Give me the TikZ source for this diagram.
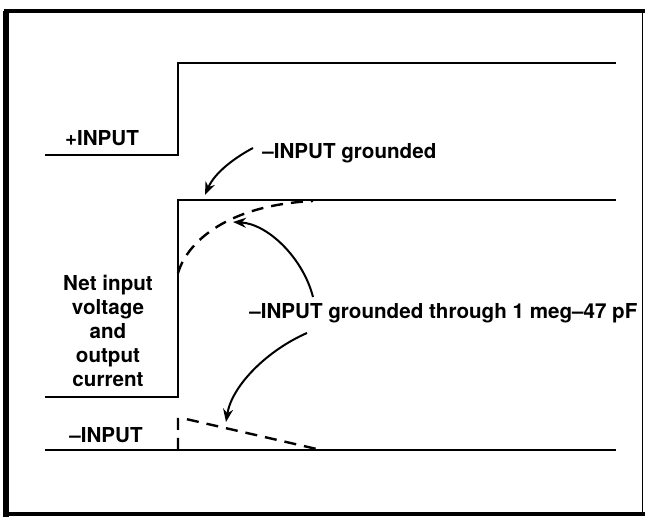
\documentclass[tikz,border=0pt]{standalone}
\usepackage{fontspec}
\setmainfont{TeX Gyre Heros}
\usetikzlibrary{arrows.meta}
\tikzset{
  wave/.style={line width=1pt, line join=miter},
  dashcurve/.style={line width=1.2pt, dash pattern=on 6pt off 4pt},
  pointer/.style={line width=1pt, -{Stealth[length=6.5pt,width=5pt]}},
  lbl/.style={font=\fontsize{10.3}{12}\selectfont\bfseries, inner sep=0pt},
}
\begin{document}
\begin{tikzpicture}[x=0.5pt,y=-0.5pt]
\useasboundingbox (0,0) rectangle (645,517);
% frame
\draw[line width=2.6pt] (6,517) -- (6,11);
\draw[line width=1.6pt] (4,11) -- (645,11);
\draw[line width=2pt] (4,514) -- (645,514);
\draw[line width=0.5pt] (643,11) -- (643,514);

% +INPUT waveform
\coordinate (a0) at (45,155);
\coordinate (a1) at (178,155);
\coordinate (a2) at (178,63);
\coordinate (a3) at (616,63);
\draw[wave] (a0) -- (a1) -- (a2) -- (a3);
\node[lbl] (plus) at (102,138) {+INPUT};

% net input waveform
\coordinate (b0) at (45,397);
\coordinate (b1) at (178,397);
\coordinate (b2) at (178,200);
\coordinate (b3) at (616,200);
\draw[wave] (b0) -- (b1) -- (b2) -- (b3);
\node[lbl, align=center] (net) at (108,331) {Net input\\voltage\\and\\output\\current};

% -INPUT waveform
\coordinate (c0) at (45,450);
\coordinate (c1) at (616,450);
\draw[wave] (c0) -- (c1);
\node[lbl] (minus) at (106,435) {\textendash INPUT};

% dashed responses
\coordinate (d0) at (178,273);
\coordinate (d1) at (313,201);
\draw[dashcurve] (d0) .. controls (188,240) and (230,205) .. (d1);
\coordinate (e0) at (178,450);
\coordinate (e1) at (178,419);
\coordinate (e2) at (321,450);
\draw[dashcurve, dash pattern=on 6pt off 4pt] (e0) -- (e1) -- (186,419) -- (e2);

% labels
\node[lbl, anchor=west] (gnd) at (262,153) {\textendash INPUT grounded};
\node[lbl, anchor=west] (rc) at (249,313) {\textendash INPUT grounded through 1 meg\textendash 47 pF};

% pointers
\coordinate (t1) at (205,195);
\coordinate (s1) at (253,148);
\draw[pointer] (s1) .. controls (236,157) and (215,172) .. (t1);
\coordinate (s2) at (313,297);
\coordinate (t2) at (233,222);
\draw[pointer] (s2) .. controls (303,258) and (268,224) .. (t2);
\coordinate (s3) at (307,333);
\coordinate (t3) at (226,422);
\draw[pointer] (s3) .. controls (268,350) and (232,385) .. (t3);
\end{tikzpicture}
\end{document}
